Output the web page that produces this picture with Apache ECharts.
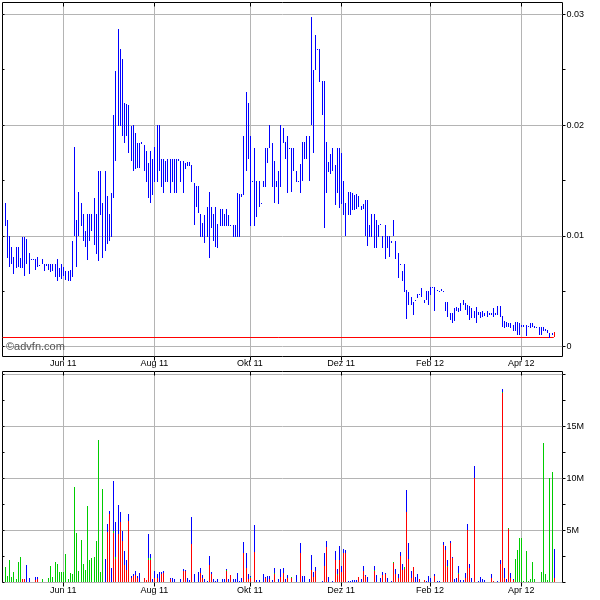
<!DOCTYPE html>
<html>
<head>
<meta charset="utf-8">
<script src="https://cdn.jsdelivr.net/npm/echarts@6.0.0/dist/echarts.min.js"></script>
<style>
html,body{margin:0;padding:0;background:#ffffff;}
#chart{width:600px;height:600px;}
</style>
</head>
<body>
<div id="chart"></div>
<script>
// ---------- calendar of trading days (category axis) ----------
const axisStart = '2011-04-20';
const axisEnd = '2012-04-30';
const marketHolidays = ['2011-04-22','2011-05-30','2011-07-04','2011-09-05','2011-11-24',
  '2011-12-26','2012-01-02','2012-01-16','2012-02-20','2012-04-06'];
const firstBarDate = '2011-04-21';

// ---------- tick labels ----------
const monthTickDates = ['2011-06-01','2011-08-01','2011-10-03','2011-12-01','2012-02-01','2012-04-02'];
const monthTickLabels = ['Jun 11','Aug 11','Okt 11','Dez 11','Feb 12','Apr 12'];

// ---------- daily price range (high / low) ----------
const high = [
0.0130,0.0114,0.0100,0.0090,0.0081,0.0090,0.0090,0.0080,0.0099,0.0099,
0.0097,0.0085,0.00795,0.00795,0.0079,0.0081,0.00735,0.0079,0.0075,0.0075,
0.0075,0.0075,0.0075,0.0075,0.0079,0.0071,0.0075,0.0072,0.0068,0.0068,
0.0069,0.0095,0.0180,0.0114,0.0140,0.0130,0.0120,0.0104,0.0120,0.0120,
0.0120,0.0134,0.0120,0.0159,0.0159,0.0130,0.0159,0.0136,0.0120,0.0139,
0.0209,0.0249,0.0287,0.0269,0.0260,0.0220,0.0219,0.0218,0.0199,0.0200,
0.0193,0.0184,0.0184,0.0185,0.0182,0.0177,0.0166,0.0177,0.0169,0.0180,
0.0200,0.0200,0.0169,0.0169,0.0168,0.0169,0.0169,0.0169,0.0169,0.0169,
0.0169,0.0168,0.0168,0.0166,0.0167,0.0167,0.0164,0.0148,0.0145,0.0145,
0.0120,0.0112,0.0119,0.0126,0.0140,0.0126,0.0120,0.0126,0.0111,0.0124,
0.0124,0.0120,0.0124,0.0119,0.0110,0.0110,0.0110,0.0139,0.0138,0.0138,
0.0190,0.0230,0.0220,0.0190,0.0150,0.0179,0.0150,0.0150,0.01295,0.0150,
0.0179,0.0179,0.0200,0.0184,0.0168,0.0150,0.0159,0.0200,0.0197,0.0185,
0.0190,0.0179,0.0179,0.0179,0.0159,0.0150,0.0165,0.0185,0.0185,0.0190,
0.0190,0.0298,0.0250,0.0281,0.0269,0.0269,0.0240,0.0240,0.0185,0.0167,
0.0174,0.0179,0.0164,0.0179,0.0179,0.0175,0.0150,0.0130,0.0140,0.0140,
0.0139,0.0137,0.0138,0.0136,0.0127,0.0129,0.0132,0.0132,0.0110,0.0120,
0.0120,0.0114,0.0110,0.01105,0.0100,0.0110,0.0100,0.0100,0.0095,0.0114,
0.0095,0.0085,0.0075,0.0068,0.0075,0.0051,0.0049,0.0045,0.0040,0.0042,
0.0048,0.0048,0.0053,0.0042,0.0050,0.0050,0.0054,0.0054,0.0054,0.0051,
0.0050,0.0052,0.0050,0.0040,0.0040,0.0030,0.0030,0.0035,0.0036,0.0035,
0.0039,0.0042,0.0039,0.0038,0.0037,0.0035,0.0032,0.0036,0.0031,0.0031,
0.0032,0.0030,0.0032,0.0030,0.0030,0.0035,0.0030,0.0037,0.0037,0.0028,
0.0023,0.0022,0.0021,0.0021,0.0020,0.0022,0.0022,0.0021,0.0020,0.0020,
0.0020,0.0019,0.0021,0.0021,0.0019,0.0018,0.0018,0.0018,0.0018,0.0016,
0.0015,0.0012,0.0012,0.0013
];
const low = [
0.0109,0.0080,0.0072,0.0075,0.0066,0.0071,0.0072,0.0071,0.0071,0.0064,
0.0075,0.0066,0.00785,0.00785,0.0069,0.0072,0.00725,0.0075,0.0068,0.0073,
0.0069,0.0067,0.0068,0.0063,0.0059,0.0063,0.0061,0.0064,0.0060,0.0059,
0.0059,0.0063,0.0100,0.0072,0.0100,0.0109,0.0095,0.0090,0.0078,0.0095,
0.0104,0.0092,0.0084,0.0077,0.0119,0.0080,0.0086,0.0093,0.0095,0.0099,
0.0134,0.0168,0.0199,0.0199,0.0190,0.0184,0.0190,0.0175,0.0168,0.0159,
0.0160,0.0161,0.0161,0.0183,0.0159,0.0149,0.0134,0.0130,0.0137,0.0149,
0.0149,0.0159,0.0144,0.0139,0.0149,0.0149,0.0139,0.0149,0.0139,0.0139,
0.0168,0.0149,0.0139,0.0160,0.0163,0.0163,0.0149,0.0110,0.0126,0.0121,
0.0099,0.0099,0.0094,0.0099,0.0080,0.0107,0.0095,0.0090,0.0089,0.0109,
0.0109,0.0109,0.0109,0.0109,0.0109,0.0099,0.0099,0.0099,0.0099,0.0135,
0.0137,0.0159,0.0169,0.0109,0.0149,0.0109,0.0117,0.0126,0.01285,0.0144,
0.0144,0.0166,0.0179,0.0144,0.0130,0.0144,0.0129,0.0144,0.0184,0.0169,
0.0139,0.0178,0.0140,0.0159,0.0149,0.0149,0.0139,0.0150,0.0169,0.0169,
0.0150,0.0200,0.0175,0.0250,0.0268,0.0239,0.0209,0.0107,0.0139,0.0158,
0.0156,0.0159,0.0128,0.0139,0.0125,0.0129,0.0119,0.0100,0.0119,0.0119,
0.0123,0.0123,0.0124,0.0126,0.0123,0.0124,0.0100,0.0091,0.0099,0.0099,
0.0089,0.0089,0.0099,0.01095,0.0089,0.0079,0.0089,0.0081,0.0094,0.0100,
0.0079,0.0062,0.0074,0.0059,0.0049,0.0025,0.0038,0.0038,0.0029,0.0041,
0.0044,0.0047,0.0045,0.0039,0.0042,0.0038,0.0047,0.0053,0.0032,0.00505,
0.0049,0.0050,0.0049,0.0032,0.0027,0.0024,0.0021,0.0023,0.0032,0.0031,
0.0032,0.0038,0.0033,0.0029,0.0024,0.0026,0.0026,0.0021,0.0029,0.0026,
0.0027,0.0028,0.0027,0.0029,0.0029,0.0027,0.0029,0.0029,0.0027,0.0018,
0.0017,0.0018,0.0018,0.0017,0.0014,0.0014,0.0011,0.0011,0.0018,0.0018,
0.0010,0.0018,0.0017,0.0018,0.0017,0.0017,0.0011,0.0011,0.0014,0.0014,
0.0012,0.0008,0.0011,0.0009
];
const lastPrice = 0.00083;

// ---------- daily volume in millions (red / green / blue parts) ----------
const volRed = [
0,0,0,0,0,0,0,0,0.3,0.3,
0,0,0,0,0.2,0.3,0,0,0,0,
0,0,0,0,0,0,0,0,0,0,
0,0,0,0,0,0,0,0,0,0,
0,0,0,0,0,0,0,4.8,6.6,0,
4.7,2.2,4.6,5.8,4.0,1.7,1.2,5.9,0.4,0.6,
0.7,0.4,0,0,0.4,0.2,2.1,2.1,0,0.4,
0.4,0,0.8,0.9,0,0,0.3,0,0,0,
0,0,1.1,1.1,0,0,3.7,0,0,0,
0.9,0.4,0,0,1.7,0.8,0,0,0,0,
0,0,1.1,0,0.7,0,0,0,0,0,
2.8,1.4,0.3,0.4,0,2.9,0,0,0,0,
0.4,0,0.3,0,0.8,0,0,0.5,0.9,0,
0.4,0,0.4,0,0,0,2.8,0,0,0,
0,1.2,0.5,1.1,0,0,0,1.6,3.4,0,
0,0,2.1,0.7,2.1,1.0,2.8,2.8,0,0,
0,0,0,0.5,0,1.1,0.6,0,0,0,
1.1,0,0,0,0.7,0.8,0,0,0,1.9,
0.8,0.4,2.5,1.2,1.3,6.8,2.2,0.4,1.5,0,
0,0.3,0,0.2,0,0,0,0,0.6,0,
0,0,3.6,3.1,1.5,3.8,2.3,0,0,0.8,
0,0,0.4,5.0,1.4,0,10.0,0,0,0,
0,0,0,0,0.4,0.1,0,0,1.8,18.2,
0.4,0,5.1,0.4,0.2,0,0,0,0,0,
0,0,0,0,0,0,0,0,0,0,
0,0,0,0.4
];
const volGreen = [
1.5,0.6,2.1,0.5,1.0,0.35,2.0,2.4,0,0,
0,0,0,0,0,0,0,0.3,0,0,
0.4,1.6,0.5,2.0,1.8,1.0,1.0,1.0,2.7,0.3,
0.9,0.8,9.15,4.7,1.1,4.1,1.8,1.2,7.3,2.1,
2.3,2.4,4.0,13.7,1.0,9.0,0,0,0,0,
0.2,0.2,0,0,0,0,0,0,0,0,
0,0,0,0,0,0,0.2,0.2,0,0,
0,0,0,0,0,0,0,0,0,0,
0,0,0,0,0,0,0,0,0,0,
0,0,0,0,0,0,0,0,0,0,
0,0,0.1,0,0,0,0,0,0,0,
0,0,0,0.1,0,0,0,0,0,0,
0,0,0,0,0.1,0,0,0,0,0,
0,0,0.1,0,0,0,0,0,0,0,
0,0,0,0,0,0,0,0,0,0,
0,0,0,0.1,0,0,0,0,0,0,
0,0,0,0,0,0,0,0,0,0,
0.1,0,0,0,0,0,0,0,0,0.1,
0,0,0,0,0.2,0,0,0,0,0,
0,0,0,0,0,0,0,0,0,0,
0,0,0,0,0.1,0,0,0,0,0.1,
0,0,0,0,0,0,0,0,0,0,
0,0,0,0,0,0,0,0,0,0.1,
0,0,0.1,0,0,2.2,3.1,4.3,4.3,0.1,
3.0,0.1,0.3,2.0,0.3,0,0,1.0,13.4,0.8,
0.2,10.0,10.6,0
];
const volBlue = [
0,0,0,0,0,0,0,0,0,0,
1.7,0.4,0,0,0.3,0.2,0,0,0,0,
0,0,0,0,0,0,0,0,0,0,
0,0,0,0,0,0,0,0,0,0,
0,0,0,0,0,0,2.2,0.8,0.3,1.4,
4.8,3.4,2.8,1.0,0.9,1.3,0.9,0.7,0.2,0.2,
0.4,0.2,0.9,0,0,0,2.3,0.4,0.3,0.7,
0.4,1.0,0.2,0.2,0,0,0.1,0.4,0.3,0,
0,0.3,0.2,0.1,0.4,0.2,2.6,0.8,0,1.0,
0.5,0.3,0.3,0.1,0.8,0.2,0.3,0.15,0.3,0,
0.3,0.3,0.1,0.3,0,0.3,0.3,0.9,0.1,0.4,
1.1,1.4,0.5,0.1,0,2.6,0.2,0.2,0,0.8,
0.1,0.6,0.3,0.2,0.5,0,0.3,0.8,0.5,0.3,
0.3,0,0,0,0.7,0,1.0,0.6,0.6,0,
0.3,1.4,0.5,0.4,0,0,0.1,1.2,0.6,0.5,
0,0.1,0.9,0.5,1.4,0.6,0.4,0.3,0.1,0.1,
0.2,0.2,0.2,0,0.3,0.5,0.1,0.5,0,0,
0.4,0.7,0,0.4,0.3,0.1,0.4,0,0.1,0,
0.5,0.4,0.4,0.6,0,2.1,1.6,0.7,0,0.5,
0.8,0,0,0,0.1,0.6,0.4,0,0.2,0.1,
0.1,0,0.3,0.4,0.5,0.2,0.1,0.3,0.4,0.7,
0.2,0.2,0.5,0.6,0.4,0.4,1.2,0,0.1,0.5,
0.3,0.2,0,0,0.4,0,0,0.1,0.3,0.3,
1.0,0.3,0,0.5,0.1,0,0,0,0,0,
0,0,0,0,0,0,0,0,0,0,
0,0,0,2.8
];

// ---------- build ----------
const dates = [];
(function () {
  const d = new Date(axisStart + 'T00:00:00Z');
  const end = new Date(axisEnd + 'T00:00:00Z');
  while (d <= end) {
    const s = d.toISOString().slice(0, 10);
    const w = d.getUTCDay();
    if (w !== 0 && w !== 6 && marketHolidays.indexOf(s) < 0) dates.push(s);
    d.setUTCDate(d.getUTCDate() + 1);
  }
})();
const offset = dates.indexOf(firstBarDate);
const lastIdx = high.length - 1;
const priceData = high.map((h, i) => [offset + i, low[i], h]);
const volData = volRed.map((r, i) => [offset + i, r, volGreen[i], volBlue[i]]);
const lastLine = [[0, lastPrice], [offset + lastIdx, lastPrice]];

const isMonthTick = (idx, val) => monthTickDates.indexOf(val) >= 0;
const monthLabel = (val) => { const j = monthTickDates.indexOf(val); return j >= 0 ? monthTickLabels[j] : ''; };

const FONT = "'Liberation Sans', Arial, Helvetica, sans-serif";
const GRIDC = '#b4b4b4';

function catAxis(gridIndex, extra) {
  return Object.assign({ type: 'category', gridIndex: gridIndex, data: dates, boundaryGap: false }, extra);
}
function bottomAxis(gridIndex, margin) {
  return catAxis(gridIndex, {
    position: 'bottom',
    axisLine: { show: false },
    axisTick: { show: true, interval: isMonthTick, length: 4, inside: false, lineStyle: { color: '#000', width: 1 } },
    axisLabel: { show: true, interval: isMonthTick, formatter: monthLabel, fontSize: 9, fontFamily: FONT, color: '#000', margin: margin },
    splitLine: { show: true, interval: isMonthTick, lineStyle: { color: GRIDC, width: 1 } }
  });
}
function topAxis(gridIndex) {
  return catAxis(gridIndex, {
    position: 'top',
    axisLine: { show: false },
    axisTick: { show: true, interval: isMonthTick, length: 4, inside: true, lineStyle: { color: '#000', width: 1 } },
    axisLabel: { show: false },
    splitLine: { show: false }
  });
}
function rightValueAxis(gridIndex, min, max, interval, fmt) {
  return {
    type: 'value', gridIndex: gridIndex, position: 'right', min: min, max: max, interval: interval,
    axisLine: { show: false },
    axisTick: { show: true, length: 3, inside: false, lineStyle: { color: '#000' } },
    minorTick: { show: true, splitNumber: 2, length: 3, lineStyle: { color: '#000' } },
    axisLabel: { show: true, fontSize: 9, fontFamily: FONT, color: '#000', margin: 4, formatter: fmt },
    splitLine: { show: true, lineStyle: { color: GRIDC, width: 1 } }
  };
}
function leftValueAxis(gridIndex, min, max, interval) {
  return {
    type: 'value', gridIndex: gridIndex, position: 'left', min: min, max: max, interval: interval,
    axisLine: { show: false },
    axisTick: { show: true, length: 2, inside: true, lineStyle: { color: '#000' } },
    minorTick: { show: true, splitNumber: 2, length: 2, lineStyle: { color: '#000' } },
    axisLabel: { show: false },
    splitLine: { show: false }
  };
}

function priceRender(params, api) {
  const k = api.value(0);
  const pl = api.coord([k, api.value(1)]);
  const ph = api.coord([k, api.value(2)]);
  const x = Math.round(pl[0]);
  const yt = Math.round(ph[1]);
  const yb = Math.max(yt + 1, Math.round(pl[1]));
  return { type: 'rect', shape: { x: x, y: yt, width: 1, height: yb - yt },
    style: { fill: params.dataIndex === lastIdx ? '#ff0000' : '#0000ff' } };
}
function volRender(params, api) {
  const k = api.value(0), r = api.value(1), g = api.value(2), b = api.value(3);
  const base = api.coord([k, 0]);
  const x = Math.round(base[0]);
  const y0 = Math.round(base[1]);
  const y1 = Math.round(api.coord([k, r])[1]);
  const y2 = Math.round(api.coord([k, r + g])[1]);
  const y3 = Math.round(api.coord([k, r + g + b])[1]);
  const ch = [];
  function seg(ya, yb, val, color) {
    if (!(val > 0)) return;
    let top = yb, h = ya - yb;
    if (h < 1) { h = 1; top = ya - 1; }
    ch.push({ type: 'rect', shape: { x: x, y: top, width: 1, height: h }, style: { fill: color } });
  }
  seg(y0, y1, r, '#ff0000');
  seg(y1, y2, g, '#00cc00');
  seg(y2, y3, b, '#0000ff');
  return { type: 'group', children: ch };
}

const chart = echarts.init(document.getElementById('chart'), null, { renderer: 'canvas', width: 600, height: 600 });
chart.setOption({
  animation: false,
  backgroundColor: '#ffffff',
  title: { text: '©advfn.com', left: 6, top: 341, padding: 0,
    textStyle: { fontSize: 11, fontWeight: 'normal', color: '#555555', fontFamily: FONT } },
  grid: [
    { left: 2.5, top: 2.5, width: 560, height: 354, show: true, borderColor: '#000', borderWidth: 1, backgroundColor: 'transparent', containLabel: false, outerBoundsMode: 'none' },
    { left: 2.5, top: 14.3, width: 560, height: 332.4, show: false, containLabel: false, outerBoundsMode: 'none' },
    { left: 2.5, top: 371.5, width: 560, height: 211, show: true, borderColor: '#000', borderWidth: 1, backgroundColor: 'transparent', containLabel: false, outerBoundsMode: 'none' },
    { left: 2.5, top: 374.3, width: 560, height: 208, show: false, containLabel: false, outerBoundsMode: 'none' }
  ],
  xAxis: [
    bottomAxis(0, 3),
    topAxis(0),
    catAxis(1, { show: false }),
    bottomAxis(2, 4),
    topAxis(2),
    catAxis(3, { show: false })
  ],
  yAxis: [
    { type: 'value', gridIndex: 0, show: false, min: 0, max: 1 },
    rightValueAxis(1, 0, 0.03, 0.01, v => (v === 0 ? '0' : v.toFixed(2))),
    leftValueAxis(1, 0, 0.03, 0.01),
    { type: 'value', gridIndex: 2, show: false, min: 0, max: 1 },
    rightValueAxis(3, 0, 20, 5, v => (v > 0 && v < 20 ? v + 'M' : '')),
    leftValueAxis(3, 0, 20, 5)
  ],
  series: [
    { type: 'line', name: 'Letzter Kurs', xAxisIndex: 2, yAxisIndex: 1, data: lastLine,
      showSymbol: false, symbol: 'none', silent: true, z: 2,
      lineStyle: { color: '#ff0000', width: 1 } },
    { type: 'custom', name: 'Kurs', xAxisIndex: 2, yAxisIndex: 1, data: priceData,
      encode: { x: 0, y: [1, 2] }, renderItem: priceRender, silent: true, z: 3 },
    { type: 'custom', name: 'Volumen', xAxisIndex: 5, yAxisIndex: 4, data: volData,
      encode: { x: 0, y: [1, 2, 3] }, renderItem: volRender, silent: true, z: 3 }
  ]
});
</script>
</body>
</html>
